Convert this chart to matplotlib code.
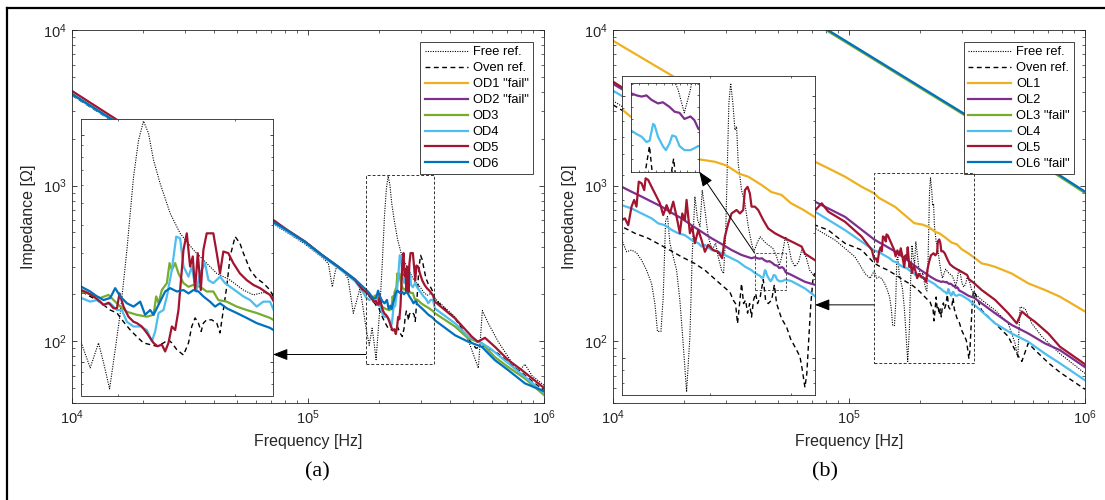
import matplotlib
matplotlib.use('Agg')
import matplotlib.pyplot as plt
from matplotlib.patches import Rectangle, ConnectionPatch
from matplotlib.lines import Line2D
from matplotlib.ticker import NullFormatter

plt.rcParams['font.family'] = ['Liberation Sans', 'DejaVu Sans']
plt.rcParams['mathtext.default'] = 'regular'

# ---------------- data, panel (a) ----------------
a_free_f = [1.0e4, 7.25e4, 8.22e4, 9.71e4, 1.15e5, 1.22e5, 1.268e5, 1.31e5, 1.34e5, 1.41e5, 1.48e5, 1.556e5, 1.66e5, 1.70e5,
            1.762e5, 1.817e5, 1.870e5, 1.903e5, 1.943e5, 1.981e5, 2.016e5, 2.063e5, 2.111e5, 2.148e5, 2.185e5, 2.223e5,
            2.262e5, 2.314e5, 2.396e5, 2.480e5, 2.597e5, 2.688e5, 2.815e5, 2.948e5, 3.087e5, 3.196e5, 3.308e5, 3.385e5,
            3.45e5, 4.2e5, 4.78e5, 5.27e5, 5.48e5, 5.81e5, 6.40e5, 7.06e5, 7.76e5, 8.30e5, 8.89e5, 1.0e6]
a_free_z = [3900, 557, 495, 420, 345, 315, 223, 290, 300, 285, 250, 151, 218, 175,
            121, 94, 121, 99, 76, 113, 164, 311, 654, 949, 1150, 1015,
            774, 611, 451, 368, 311, 281, 245, 229, 207, 197, 202, 197,
            188, 143, 101, 67, 157, 130, 99, 79, 63, 71, 60, 52]

a_oven_f = [1.0e4, 7.25e4, 8.22e4, 9.71e4, 1.146e5, 1.339e5, 1.581e5, 1.70e5,
            1.762e5, 1.817e5, 1.860e5, 1.903e5, 1.947e5, 1.993e5, 2.039e5, 2.087e5, 2.135e5, 2.185e5,
            2.236e5, 2.288e5, 2.341e5, 2.382e5, 2.410e5, 2.452e5, 2.509e5, 2.553e5, 2.582e5, 2.612e5,
            2.642e5, 2.667e5, 2.688e5, 2.719e5, 2.767e5, 2.815e5, 2.847e5, 2.880e5, 2.914e5, 2.948e5,
            3.000e5, 3.050e5, 3.087e5, 3.160e5, 3.232e5, 3.308e5, 3.385e5,
            3.45e5, 4.2e5, 4.78e5, 5.15e5, 5.6e5, 6.4e5, 7.06e5, 8.0e5, 1.0e6]
a_oven_z = [3800, 565, 505, 430, 355, 298, 245, 215,
            204, 194, 187, 178, 169, 164, 150, 138, 129, 121,
            119, 117, 121, 125, 121, 113, 107, 121, 143, 156,
            148, 136, 148, 153, 153, 148, 134, 169, 214, 291,
            356, 333, 301, 254, 233, 222, 207,
            185, 140, 103, 90, 93, 83, 73, 63, 48]

a_od3_f = [1.0e4, 7.25e4, 8.22e4, 9.71e4, 1.146e5, 1.339e5, 1.581e5, 1.70e5,
           1.762e5, 1.838e5, 1.881e5, 1.936e5, 1.970e5, 2.016e5, 2.063e5, 2.135e5, 2.210e5, 2.262e5,
           2.283e5, 2.302e5, 2.328e5, 2.369e5, 2.391e5, 2.410e5, 2.438e5, 2.466e5, 2.509e5, 2.553e5,
           2.597e5, 2.657e5, 2.719e5, 2.782e5, 2.831e5, 2.914e5, 3.016e5, 3.122e5, 3.232e5, 3.385e5,
           3.45e5, 4.2e5, 4.78e5, 5.45e5, 6.19e5, 7.06e5, 8.30e5, 1.0e6]
a_od3_z = [3880, 570, 510, 433, 356, 300, 246, 218,
           204, 197, 191, 197, 187, 175, 166, 161, 158, 161,
           194, 181, 207, 222, 272, 254, 272, 245, 222, 214,
           218, 214, 204, 204, 187, 184, 175, 169, 164, 156,
           151, 124, 104, 97, 79, 68, 57.5, 45]

a_od4_f = [1.0e4, 7.25e4, 8.22e4, 9.71e4, 1.146e5, 1.339e5, 1.581e5, 1.70e5,
           1.762e5, 1.817e5, 1.860e5, 1.903e5, 1.947e5, 1.993e5, 2.027e5, 2.063e5, 2.111e5, 2.160e5,
           2.210e5, 2.249e5, 2.275e5, 2.302e5, 2.341e5, 2.369e5, 2.410e5, 2.447e5, 2.480e5, 2.509e5,
           2.553e5, 2.582e5, 2.621e5, 2.657e5, 2.703e5, 2.735e5, 2.782e5, 2.847e5, 2.897e5, 2.948e5,
           3.016e5, 3.087e5, 3.160e5, 3.232e5, 3.308e5, 3.385e5,
           3.45e5, 4.2e5, 4.78e5, 5.45e5, 5.9e5, 7.06e5, 8.30e5, 1.0e6]
a_od4_z = [3850, 565, 505, 430, 352, 297, 243, 210,
           191, 184, 187, 178, 181, 169, 169, 150, 143, 143,
           138, 123, 136, 164, 169, 194, 254, 356, 350, 263,
           237, 263, 204, 245, 272, 229, 222, 237, 222, 214,
           204, 194, 187, 175, 184, 184,
           162, 130, 107, 97, 90, 72, 59, 46.5]

a_od5_f = [1.0e4, 7.25e4, 7.6e4, 8.22e4, 9.71e4, 1.146e5, 1.339e5, 1.581e5, 1.70e5,
           1.762e5, 1.796e5, 1.838e5, 1.881e5, 1.903e5, 1.936e5, 1.970e5, 1.993e5, 2.011e5, 2.039e5,
           2.074e5, 2.111e5, 2.135e5, 2.172e5, 2.210e5, 2.262e5, 2.293e5, 2.328e5, 2.355e5, 2.382e5,
           2.410e5, 2.438e5, 2.466e5, 2.509e5, 2.538e5, 2.567e5, 2.591e5, 2.612e5, 2.636e5, 2.664e5,
           2.688e5, 2.719e5, 2.782e5, 2.815e5, 2.847e5, 2.880e5, 2.930e5, 2.981e5, 3.050e5, 3.122e5,
           3.196e5, 3.270e5, 3.385e5,
           3.45e5, 4.2e5, 4.94e5, 5.24e5, 5.62e5, 6.19e5, 7.06e5, 8.06e5, 1.0e6]
a_od5_z = [4055, 590, 560, 515, 437, 358, 302, 248, 215,
           207, 202, 194, 184, 178, 182, 172, 172, 200, 175,
           158, 150, 148, 143, 134, 121, 117, 119, 111, 121,
           143, 138, 169, 311, 368, 263, 291, 207, 301, 207,
           311, 368, 368, 301, 245, 306, 301, 272, 245, 229,
           218, 211, 197,
           179, 140, 107, 99, 105, 92, 75.5, 65, 50]

a_od6_f = [1.0e4, 7.25e4, 8.22e4, 9.71e4, 1.146e5, 1.339e5, 1.581e5, 1.70e5,
           1.762e5, 1.817e5, 1.860e5, 1.903e5, 1.947e5, 1.981e5, 2.016e5, 2.063e5, 2.111e5, 2.160e5,
           2.197e5, 2.236e5, 2.262e5, 2.314e5, 2.355e5, 2.396e5, 2.452e5, 2.509e5, 2.553e5, 2.597e5,
           2.642e5, 2.688e5, 2.750e5, 2.799e5, 2.847e5, 2.914e5, 3.016e5, 3.122e5, 3.232e5, 3.385e5,
           3.45e5, 4.2e5, 4.78e5, 5.45e5, 6.19e5, 7.06e5, 8.30e5, 1.0e6]
a_od6_z = [3873, 575, 512, 435, 358, 302, 250, 225,
           214, 204, 194, 187, 191, 211, 194, 181, 175, 184,
           161, 169, 161, 184, 204, 211, 204, 207, 200, 207,
           204, 194, 184, 175, 181, 172, 164, 156, 148, 141,
           136, 109, 99, 92, 75.5, 65, 53.5, 47.6]

# "fail" samples have no curve on the chart
a_od1_f, a_od1_z = [], []
a_od2_f, a_od2_z = [], []

a_labels = ['Free ref.', 'Oven ref.', 'OD1 "fail"', 'OD2 "fail"', 'OD3', 'OD4', 'OD5', 'OD6']
a_zoom_f = [1.76e5, 3.42e5]
a_zoom_z = [71, 1174]
a_arrow_z = 82

# ---------------- data, panel (b) ----------------
b_free_f = [1.0e4, 7.18e4, 8.73e4, 1.06e5, 1.169e5, 1.227e5,
            1.279e5, 1.310e5, 1.343e5, 1.377e5, 1.413e5, 1.449e5, 1.486e5, 1.511e5, 1.531e5, 1.558e5,
            1.576e5, 1.595e5, 1.611e5, 1.630e5, 1.658e5, 1.686e5, 1.714e5, 1.743e5, 1.773e5, 1.803e5,
            1.824e5, 1.849e5, 1.875e5, 1.897e5, 1.919e5, 1.945e5, 1.978e5, 2.018e5, 2.053e5, 2.080e5,
            2.116e5, 2.137e5, 2.159e5, 2.177e5, 2.195e5, 2.215e5, 2.240e5, 2.263e5, 2.282e5, 2.301e5,
            2.340e5, 2.380e5, 2.421e5, 2.461e5, 2.49e5, 2.53e5, 2.57e5, 2.645e5, 2.74e5, 2.79e5,
            2.83e5, 2.87e5, 2.92e5, 2.96e5, 3.01e5, 3.063e5, 3.12e5, 3.17e5, 3.24e5, 3.30e5, 3.388e5,
            3.65e5, 4.16e5, 4.73e5, 5.05e5, 5.19e5, 5.31e5, 5.57e5, 5.95e5, 6.56e5, 7.83e5, 1.0e6]
b_free_z = [3508, 531, 446, 348, 272, 253,
            282, 254, 258, 252, 236, 216, 192, 161, 126, 126,
            171, 336, 346, 274, 243, 216, 166, 113, 74, 120,
            243, 413, 336, 317, 437, 367, 290, 258, 274, 243,
            216, 210, 290, 522, 938, 1120, 938, 742, 765, 553,
            437, 389, 317, 274, 254, 274, 290, 274, 262, 245,
            225, 245, 290, 274, 236, 223, 232, 258, 243, 216, 204,
            184, 158, 130, 97, 79, 166, 162, 130, 107, 83, 62]

b_oven_f = [1.0e4, 7.18e4, 8.17e4, 9.62e4, 1.132e5,
            1.279e5, 1.366e5, 1.461e5, 1.603e5, 1.729e5, 1.849e5, 1.945e5, 2.098e5, 2.207e5, 2.244e5,
            2.270e5, 2.293e5, 2.317e5, 2.340e5, 2.364e5, 2.388e5, 2.412e5, 2.437e5, 2.461e5, 2.486e5,
            2.512e5, 2.537e5, 2.571e5, 2.611e5, 2.642e5, 2.677e5, 2.724e5, 2.761e5, 2.793e5, 2.864e5,
            2.937e5, 2.997e5, 3.038e5, 3.089e5, 3.142e5, 3.179e5, 3.222e5, 3.253e5, 3.287e5, 3.320e5,
            3.359e5, 3.388e5,
            3.65e5, 4.16e5, 4.73e5, 5.14e5, 5.40e5, 5.75e5, 6.14e5, 6.99e5, 7.83e5, 1.0e6]
b_oven_z = [3300, 557, 517, 425, 385,
            317, 299, 286, 262, 243, 229, 216, 192, 178, 166,
            161, 135, 161, 192, 161, 166, 148, 161, 143, 166,
            176, 161, 171, 199, 166, 161, 166, 190, 161, 141,
            131, 118, 113, 107, 101, 90, 77, 87, 120, 161,
            204, 210,
            158, 130, 107, 83, 74, 97, 87.5, 72.5, 63, 49]

b_ol1_f = [1.0e4, 1.78e4, 7.18e4, 8.17e4, 9.62e4, 1.132e5, 1.279e5, 1.337e5, 1.567e5, 1.890e5,
           2.046e5, 2.168e5, 2.313e5, 2.421e5, 2.590e5, 2.72e5, 2.864e5, 3.0e5, 3.2e5, 3.42e5,
           3.65e5, 3.9e5, 4.16e5, 4.89e5, 5.75e5, 6.77e5, 7.83e5, 1.0e6]
b_ol1_z = [8530, 5080, 1422, 1291, 1140, 982, 891, 834, 730, 573,
           561, 543, 505, 492, 457, 430, 419, 390, 367, 341,
           316, 309, 300, 272, 235, 213, 193, 155]

b_ol2_f = [1.0e4, 7.18e4, 9.62e4, 1.279e5, 1.343e5, 1.413e5, 1.486e5, 1.563e5, 1.644e5, 1.729e5,
           1.818e5, 1.912e5, 2.012e5, 2.116e5, 2.225e5, 2.340e5, 2.461e5, 2.500e5, 2.535e5, 2.564e5,
           2.593e5, 2.624e5, 2.663e5, 2.693e5, 2.735e5, 2.767e5, 2.799e5, 2.831e5, 2.871e5, 2.897e5,
           2.924e5, 3.013e5, 3.222e5, 3.388e5, 4.16e5, 4.89e5, 5.75e5, 6.77e5, 7.83e5, 1.0e6]
b_ol2_z = [4500, 787, 629, 450, 431, 413, 395, 378, 358, 341,
           321, 303, 286, 272, 258, 247, 240, 242, 240, 239,
           240, 236, 233, 234, 230, 226, 225, 220, 222, 219,
           212, 207, 195, 190, 151, 127, 112, 96.6, 87.5, 68]

b_ol3_f = [7.0e4, 3.07e5, 1.0e6]
b_ol3_z = [11300, 2850, 895]

b_ol4_f = [1.0e4, 7.18e4, 9.62e4, 1.279e5, 1.343e5, 1.413e5, 1.486e5, 1.537e5, 1.590e5, 1.644e5,
           1.700e5, 1.758e5, 1.818e5, 1.881e5, 1.912e5, 1.945e5, 2.012e5, 2.080e5, 2.151e5, 2.225e5,
           2.301e5, 2.380e5, 2.461e5, 2.500e5, 2.535e5, 2.564e5, 2.593e5, 2.612e5, 2.633e5, 2.642e5,
           2.663e5, 2.693e5, 2.712e5, 2.735e5, 2.752e5, 2.775e5, 2.799e5, 2.831e5, 2.871e5, 2.924e5,
           3.013e5, 3.115e5, 3.222e5, 3.388e5, 4.16e5, 4.89e5, 5.75e5, 6.77e5, 7.83e5, 1.0e6]
b_ol4_z = [4074, 679, 517, 383, 372, 356, 341, 326, 321, 308,
           299, 294, 282, 274, 266, 270, 258, 254, 247, 240,
           233, 223, 216, 211, 208, 206, 202, 203, 216, 215,
           206, 199, 196, 201, 207, 206, 199, 196, 196, 199,
           196, 190, 184, 172, 130, 112, 99, 83, 72, 56]

b_ol5_f = [1.0e4, 7.2e4, 7.66e4, 8.17e4, 9.62e4, 1.132e5, 1.25e5,
           1.279e5, 1.299e5, 1.321e5, 1.343e5, 1.361e5, 1.377e5, 1.393e5, 1.413e5, 1.432e5, 1.442e5,
           1.461e5, 1.486e5, 1.511e5, 1.550e5, 1.576e5, 1.603e5, 1.630e5, 1.658e5, 1.686e5, 1.714e5,
           1.735e5, 1.758e5, 1.773e5, 1.803e5, 1.824e5, 1.849e5, 1.881e5, 1.912e5, 1.945e5, 1.978e5,
           2.028e5, 2.080e5, 2.122e5, 2.151e5, 2.188e5, 2.225e5, 2.282e5, 2.321e5, 2.360e5, 2.380e5,
           2.412e5, 2.440e5, 2.461e5, 2.503e5, 2.545e5, 2.611e5, 2.677e5, 2.769e5, 2.864e5, 2.962e5,
           3.063e5, 3.168e5, 3.222e5, 3.388e5,
           3.65e5, 4.16e5, 4.73e5, 5.14e5, 5.40e5, 5.75e5, 6.14e5, 6.99e5, 7.83e5, 1.0e6]
b_ol5_z = [4655, 695, 769, 679, 585, 469, 385,
           336, 341, 321, 378, 401, 378, 471, 464, 437, 485,
           478, 450, 425, 389, 351, 383, 356, 395, 346, 299,
           356, 336, 401, 299, 317, 274, 308, 282, 254, 270,
           258, 254, 240, 290, 326, 356, 367, 356, 367, 437,
           450, 425, 378, 378, 367, 336, 312, 299, 290, 282,
           274, 266, 250, 236,
           213, 184, 151, 130, 155, 143, 133, 112, 92, 71]

b_ol6_f = [7.0e4, 3.07e5, 1.0e6]
b_ol6_z = [11500, 2900, 914]

b_labels = ['Free ref.', 'Oven ref.', 'OL1', 'OL2', 'OL3 "fail"', 'OL4', 'OL5', 'OL6 "fail"']
b_zoom_f = [1.28e5, 3.39e5]
b_zoom_z = [72, 1197]
b_arrow_z = 171
b_zoom2_f = [2.50e5, 2.93e5]
b_zoom2_z = [181, 251]

# MATLAB default colour order
colors = ['#EDB120', '#7E2F8E', '#77AC30', '#4DBEEE', '#A2142F', '#0072BD']

FREE = dict(color='black', lw=0.8, linestyle=(0, (1, 1.2)))
OVEN = dict(color='black', lw=1.0, linestyle=(0, (3.5, 2.5)))
DARK = '#262626'

W, H = 1105, 500
fig = plt.figure(figsize=(W / 100, H / 100), dpi=100)


def px_box(x0, y0, x1, y1):
    return [x0 / W, 1 - y1 / H, (x1 - x0) / W, (y1 - y0) / H]


def draw_lines(ax, curves, labels=None):
    styles = [FREE, OVEN] + [dict(color=c, lw=1.6) for c in colors]
    for i, (f, z) in enumerate(curves):
        lab = labels[i] if labels else None
        ax.plot(f, z, label=lab, **styles[i])


def style_axes(ax, major_len, minor_len, labels=True):
    ax.set_xscale('log')
    ax.set_yscale('log')
    ax.tick_params(which='both', direction='in', top=True, right=True, color=DARK,
                   labelcolor=DARK, labelsize=10.5, pad=4)
    ax.tick_params(which='major', length=major_len, width=0.6)
    ax.tick_params(which='minor', length=minor_len, width=0.5)
    ax.xaxis.set_minor_formatter(NullFormatter())
    ax.yaxis.set_minor_formatter(NullFormatter())
    if not labels:
        ax.xaxis.set_major_formatter(NullFormatter())
        ax.yaxis.set_major_formatter(NullFormatter())
    for s in ax.spines.values():
        s.set_color(DARK)
        s.set_linewidth(0.6)


def zoom_rect(ax, fr, zr, lw=0.7):
    r = Rectangle((fr[0], zr[0]), fr[1] - fr[0], zr[1] - zr[0], fill=False, ec='#333333',
                  lw=lw, linestyle=(0, (3, 2)), zorder=6, clip_on=False)
    ax.add_patch(r)


def add_arrow(xyA, coordsA, xyB, coordsB):
    con = ConnectionPatch(xyA=xyA, coordsA=coordsA, xyB=xyB, coordsB=coordsB,
                          arrowstyle='-|>,head_length=0.9,head_width=0.35', mutation_scale=10,
                          lw=0.7, color='black', shrinkA=0, shrinkB=0, zorder=20)
    fig.add_artist(con)


def panel(box, inset_box, curves, labels, zoom_f, zoom_z, arrow_z):
    ax = fig.add_axes(px_box(*box))
    draw_lines(ax, curves, labels)
    style_axes(ax, 3.5, 2)
    ax.set_xlim(1e4, 1e6)
    ax.set_ylim(40, 1e4)
    ax.set_xlabel('Frequency [Hz]', fontsize=11.5, color=DARK, labelpad=5)
    ax.set_ylabel('Impedance [Ω]', fontsize=11.5, color=DARK, labelpad=5)
    leg = ax.legend(loc='upper right', bbox_to_anchor=(0.977, 0.968), borderaxespad=0,
                    fontsize=9.3, frameon=True, fancybox=False, framealpha=1,
                    edgecolor=DARK, handlelength=3.3, handletextpad=0.4,
                    labelspacing=0.3, borderpad=0.35)
    leg.get_frame().set_linewidth(0.6)
    zoom_rect(ax, zoom_f, zoom_z)

    axin = fig.add_axes(px_box(*inset_box))
    draw_lines(axin, curves)
    style_axes(axin, 2.5, 1.5, labels=False)
    axin.set_xlim(*zoom_f)
    axin.set_ylim(*zoom_z)

    # arrow from the zoom box to the inset edge, at the same height
    y_disp = ax.transData.transform((zoom_f[0], arrow_z))[1]
    x_edge = axin.transAxes.transform((1, 0))[0]
    x_tip = ax.transData.inverted().transform((x_edge, y_disp))[0]
    add_arrow((zoom_f[0], arrow_z), ax.transData, (x_tip, arrow_z), ax.transData)
    return ax, axin


a_curves = [(a_free_f, a_free_z), (a_oven_f, a_oven_z), (a_od1_f, a_od1_z), (a_od2_f, a_od2_z),
            (a_od3_f, a_od3_z), (a_od4_f, a_od4_z), (a_od5_f, a_od5_z), (a_od6_f, a_od6_z)]
b_curves = [(b_free_f, b_free_z), (b_oven_f, b_oven_z), (b_ol1_f, b_ol1_z), (b_ol2_f, b_ol2_z),
            (b_ol3_f, b_ol3_z), (b_ol4_f, b_ol4_z), (b_ol5_f, b_ol5_z), (b_ol6_f, b_ol6_z)]

ax_a, in_a = panel((72, 30, 544, 403), (81, 119, 273, 395.5), a_curves, a_labels,
                   a_zoom_f, a_zoom_z, a_arrow_z)
ax_b, in_b = panel((613, 30, 1085, 403), (622, 75.7, 815, 395), b_curves, b_labels,
                   b_zoom_f, b_zoom_z, b_arrow_z)

# second-level zoom inside the inset of panel (b)
zoom_rect(in_b, b_zoom2_f, b_zoom2_z, lw=0.6)
in_b2 = fig.add_axes(px_box(630.7, 83.3, 699.3, 171.7))
draw_lines(in_b2, b_curves)
style_axes(in_b2, 2, 1.2, labels=False)
in_b2.set_xlim(*b_zoom2_f)
in_b2.set_ylim(*b_zoom2_z)
add_arrow((b_zoom2_f[0], b_zoom2_z[1]), in_b.transData, (1, 0), in_b2.transAxes)

# sub-figure captions
fig.text(317 / W, 1 - 471.7 / H, '(a)', ha='center', va='center', fontsize=16,
         family='Liberation Serif')
fig.text(825 / W, 1 - 471.7 / H, '(b)', ha='center', va='center', fontsize=16,
         family='Liberation Serif')

# frame lines along top and left of the figure
fig.add_artist(Line2D([7 / W, 1], [1 - 8 / H, 1 - 8 / H], transform=fig.transFigure,
                      color='black', lw=1.6))
fig.add_artist(Line2D([7 / W, 7 / W], [0, 1 - 8 / H], transform=fig.transFigure,
                      color='black', lw=1.6))

fig.savefig('out.png', dpi=100)
